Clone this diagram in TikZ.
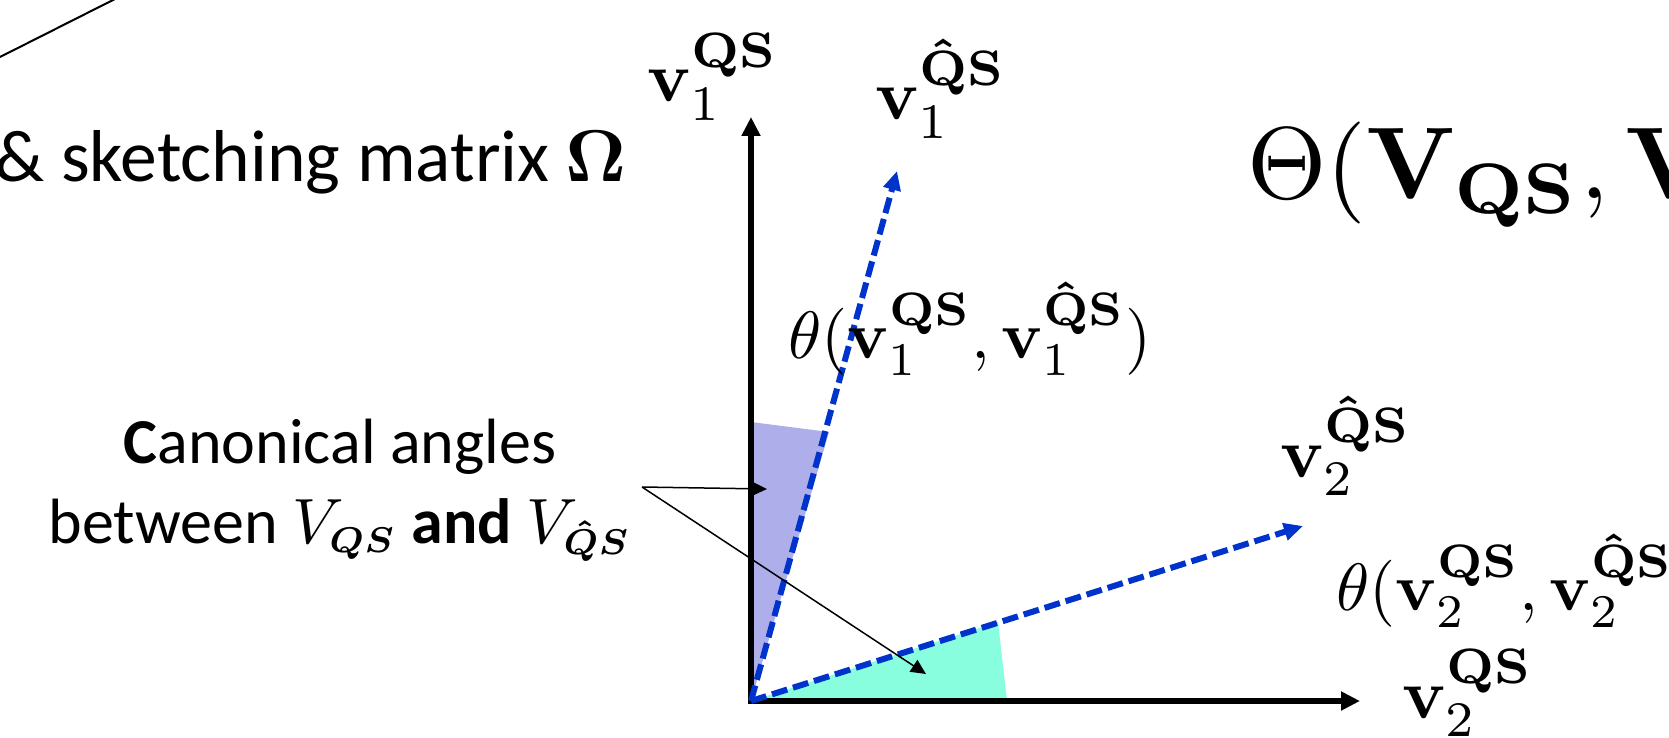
\documentclass[tikz,border=0pt]{standalone}
\usepackage[no-math]{fontspec}
\newfontfamily\carlito{Carlito}
\usepackage{amsmath}
\usepackage{graphicx}
\usetikzlibrary{arrows.meta}
\definecolor{vecblue}{RGB}{0,51,204}
\definecolor{lavend}{RGB}{174,174,234}
\definecolor{aquafill}{RGB}{136,254,222}
\newcommand{\mlab}[1]{\scalebox{7.1}{$#1$}}
\newcommand{\tlab}[1]{\scalebox{6.7}{$#1$}}
\newcommand{\blab}[1]{\scalebox{10.2}{$#1$}}
\newcommand{\subsc}[1]{\scalebox{0.8}{$\scriptstyle\boldsymbol{#1}$}}
\tikzset{
  axisarrow/.style={line width=6.8pt, -{Triangle[length=19pt,width=18pt]}},
  vecarrow/.style={vecblue, line width=6pt, dash pattern=on 16pt off 6pt, -{Triangle[length=19pt,width=17pt]}},
  callout/.style={line width=1.5pt, -{Triangle[length=15pt,width=14pt]}},
  mlabel/.style={inner sep=0pt, outer sep=0pt, anchor=base west},
  txtlabel/.style={inner sep=0pt, outer sep=0pt}
}
\begin{document}
\begin{tikzpicture}[x=1pt,y=-1pt]
\useasboundingbox (0,0) rectangle (1669,738);
% key points
\coordinate (O) at (751,701);
\coordinate (Ov) at (751,704.4);
\coordinate (Oh) at (747.6,701);
\coordinate (Ytip) at (751,117);
\coordinate (Xtip) at (1360,701);
\coordinate (U1) at (897,171);
\coordinate (U2) at (1303,526);
\coordinate (L1) at (751,422);
\coordinate (L2) at (829,432);
\coordinate (T1) at (1007,701);
\coordinate (T2) at (998,622);
% angle wedges
\fill[lavend] (O) -- (L1) -- (L2) -- cycle;
\fill[aquafill] (O) -- (T1) -- (T2) -- cycle;
% axes
\draw[axisarrow] (Ov) -- (Ytip);
\draw[axisarrow] (Oh) -- (Xtip);
% sketched vectors
\draw[vecarrow] (O) -- (U1);
\draw[vecarrow] (O) -- (U2);
% callout
\coordinate (P) at (642,487);
\coordinate (A1) at (767,489);
\coordinate (A2) at (926,674);
\draw[callout] (P) -- (A1);
\draw[callout] (P) -- (A2);
% top-left line
\coordinate (TLa) at (-3,58.5);
\coordinate (TLb) at (116,-1.5);
\draw[line width=2pt] (TLa) -- (TLb);
% texts
\node[txtlabel, anchor=base east] (sketch) at (627,182) {\scalebox{7.35}{\carlito \& sketching matrix $\mathbf{\Omega}$}};
\node[txtlabel, anchor=base] (cap1) at (340,463) {\scalebox{6.4}{\carlito\textbf{C}anonical angles}};
\node[txtlabel, anchor=base] (cap2) at (340,543) {\scalebox{6.4}{\carlito between $V_{\subsc{QS}}$ \textbf{and} $V_{\subsc{\hat{Q}S}}$}};
% math labels
\node[mlabel] (v1) at (647,102) {\mlab{\mathbf{v}_1^{\mathbf{QS}}}};
\node[mlabel] (v1h) at (875,120) {\mlab{\mathbf{v}_1^{\mathbf{\hat{Q}S}}}};
\node[mlabel] (th1) at (788,358) {\tlab{\theta(\mathbf{v}_1^{\mathbf{QS}},\mathbf{v}_1^{\mathbf{\hat{Q}S}})}};
\node[mlabel] (v2h) at (1280,477) {\mlab{\mathbf{v}_2^{\mathbf{\hat{Q}S}}}};
\node[mlabel] (th2) at (1336,610) {\tlab{\theta(\mathbf{v}_2^{\mathbf{QS}},\mathbf{v}_2^{\mathbf{\hat{Q}S}})}};
\node[mlabel] (v2) at (1402,718) {\mlab{\mathbf{v}_2^{\mathbf{QS}}}};
\node[mlabel] (bigth) at (1247,198) {\blab{\Theta(\mathbf{V}_{\mathbf{QS}},\mathbf{V}_{\mathbf{\hat{Q}S}})}};
\end{tikzpicture}
\end{document}
